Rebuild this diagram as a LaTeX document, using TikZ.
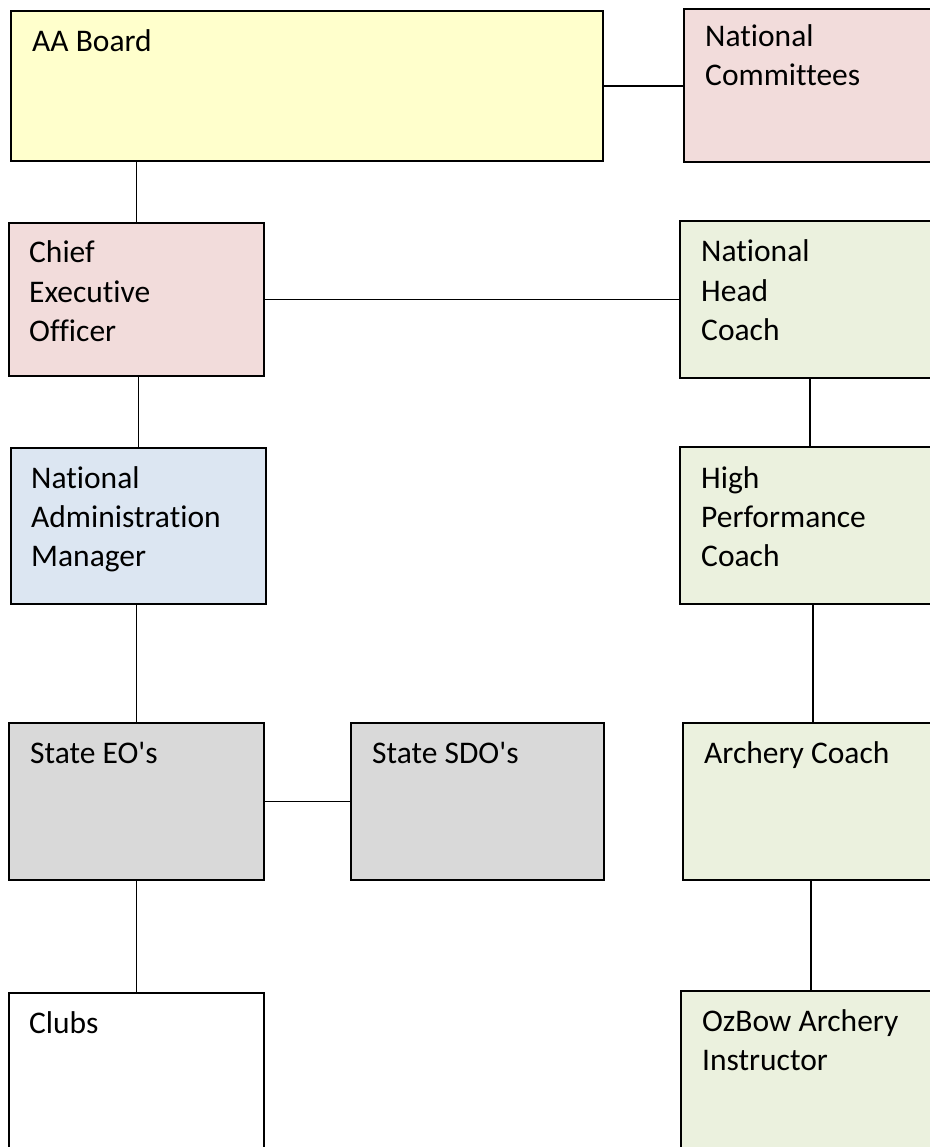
\documentclass[tikz,border=0pt]{standalone}
\usepackage{fontspec}
\setmainfont{Carlito}[Ligatures={TeXOff,NoCommon}]
\definecolor{cyellow}{HTML}{FFFFCC}
\definecolor{cpink}{HTML}{F2DCDB}
\definecolor{cgreen}{HTML}{EBF1DE}
\definecolor{cblue}{HTML}{DCE6F2}
\definecolor{cgray}{HTML}{D9D9D9}
\begin{document}
\begin{tikzpicture}[x=1pt,y=-1pt,
  box/.style={draw=black, line width=1.8pt, inner sep=0pt, anchor=north west, rectangle},
  txt/.style={anchor=base west, inner sep=0pt, align=left, font=\fontsize{31.5}{39}\selectfont},
  link/.style={draw=black, line width=1.8pt}]
\useasboundingbox[fill=white] (0,0) rectangle (929,1147);
\node[box, fill=cyellow, minimum width=592pt, minimum height=150pt] (aa) at (10,10) {};
\node[box, fill=cpink, minimum width=260pt, minimum height=153pt] (nc) at (683,8) {};
\node[box, fill=cpink, minimum width=255pt, minimum height=153pt] (ceo) at (8,222) {};
\node[box, fill=cgreen, minimum width=260pt, minimum height=157pt] (nhc) at (679,220) {};
\node[box, fill=cblue, minimum width=255pt, minimum height=156pt] (nam) at (10,447) {};
\node[box, fill=cgreen, minimum width=260pt, minimum height=157pt] (hpc) at (679,446) {};
\node[box, fill=cgray, minimum width=255pt, minimum height=157pt] (eo) at (8,722) {};
\node[box, fill=cgray, minimum width=253pt, minimum height=157pt] (sdo) at (350,722) {};
\node[box, fill=cgreen, minimum width=260pt, minimum height=157pt] (ac) at (682,722) {};
\node[box, fill=white, minimum width=255pt, minimum height=170pt] (clubs) at (8,992) {};
\node[box, fill=cgreen, minimum width=260pt, minimum height=170pt] (oz) at (680,990) {};

\node[txt] (taa) at ([shift={(22,42)}]aa.north west) {AA Board};
\node[txt] (tnc) at ([shift={(22,78)}]nc.north west) {National\\Committees};
\node[txt] (tceo) at ([shift={(21,119)}]ceo.north west) {Chief\\Executive\\Officer};
\node[txt] (tnhc) at ([shift={(22,120)}]nhc.north west) {National\\Head\\Coach};
\node[txt] (tnam) at ([shift={(21,119)}]nam.north west) {National\\Administration\\Manager};
\node[txt] (thpc) at ([shift={(22,120)}]hpc.north west) {High\\Performance\\Coach};
\node[txt] (teo) at ([shift={(22,41)}]eo.north west) {State EO's};
\node[txt] (tsdo) at ([shift={(22,41)}]sdo.north west) {State SDO's};
\node[txt] (tac) at ([shift={(22,41)}]ac.north west) {Archery Coach};
\node[txt] (tclubs) at ([shift={(21,41)}]clubs.north west) {Clubs};
\node[txt] (toz) at ([shift={(22,80)}]oz.north west) {OzBow Archery\\Instructor};

\draw[link] (aa.east) -- (aa.east -| nc.west);
\draw[link] (ceo.north) -- (ceo.north |- aa.south);
\draw[link] (ceo.east) -- (ceo.east -| nhc.west);
\draw[link] (nam.north) -- (nam.north |- ceo.south);
\draw[link] (hpc.north) -- (hpc.north |- nhc.south);
\draw[link] (eo.north) -- (eo.north |- nam.south);
\draw[link] (eo.east) -- (eo.east -| sdo.west);
\draw[link] (ac.north) -- (ac.north |- hpc.south);
\draw[link] (clubs.north) -- (clubs.north |- eo.south);
\draw[link] (oz.north) -- (oz.north |- ac.south);
\end{tikzpicture}
\end{document}
